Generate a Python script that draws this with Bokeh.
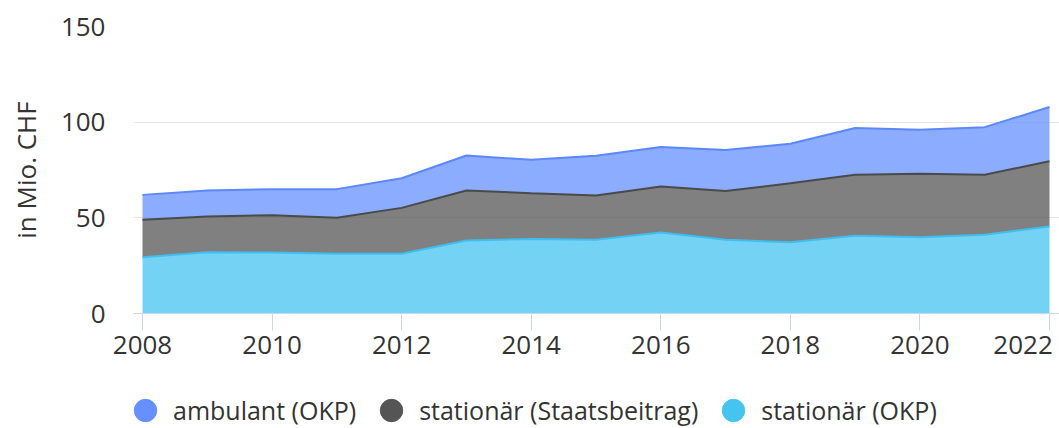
from bokeh.plotting import figure
from bokeh.layouts import column
from bokeh.models import ColumnDataSource, Range1d, FixedTicker, Legend, LegendItem
from bokeh.embed import file_html
from bokeh.resources import INLINE

years = [2008, 2009, 2010, 2011, 2012, 2013, 2014, 2015, 2016, 2017, 2018, 2019, 2020, 2021, 2022]
stationaer_okp = [29.4, 32.0, 31.9, 31.2, 31.2, 38.2, 39.0, 38.5, 42.3, 38.5, 37.3, 40.6, 39.9, 41.1, 45.5]
stationaer_staat = [19.6, 18.7, 19.5, 18.8, 24.0, 26.1, 23.9, 23.2, 24.1, 25.5, 30.8, 31.9, 33.1, 31.4, 34.1]
ambulant_okp = [13.0, 13.6, 13.6, 15.0, 15.5, 18.3, 17.4, 20.7, 20.6, 21.5, 20.6, 24.5, 23.0, 24.9, 28.3]

series_names = ["ambulant (OKP)", "stationär (Staatsbeitrag)", "stationär (OKP)"]
series_colors = ["#6690ff", "#555555", "#45c4f0"]
x_ticks = [2008, 2010, 2012, 2014, 2016, 2018, 2020, 2022]
y_ticks = [0, 50, 100, 150]
y_title = "in Mio. CHF"

FONT = "Open Sans"

src = ColumnDataSource(dict(year=years, s_okp=stationaer_okp, s_staat=stationaer_staat, amb=ambulant_okp))

# ---------------- main chart ----------------
p = figure(width=1059, height=370, output_backend="svg", toolbar_location=None,
           x_range=Range1d(2007.861, 2022.1544), y_range=Range1d(0, 150),
           min_border_left=133, min_border_right=0, min_border_top=26, min_border_bottom=57)

stackers = ["s_okp", "s_staat", "amb"]
fill_cols = [series_colors[2], series_colors[1], series_colors[0]]
line_cols = ["#3fbff0", "#4a4a4a", "#5b87ff"]
p.varea_stack(stackers, x="year", source=src, color=fill_cols, fill_alpha=0.75)
p.vline_stack(stackers, x="year", source=src, color=line_cols, line_width=2)

p.outline_line_color = None
p.xgrid.grid_line_color = None
p.ygrid.grid_line_color = "#e6e6e6"
p.ygrid.grid_line_width = 1
p.ygrid.ticker = FixedTicker(ticks=y_ticks)

xa = p.xaxis[0]
xa.ticker = FixedTicker(ticks=x_ticks)
xa.major_label_overrides = {2022: "2022\u00a0"}
xa.axis_line_color = "#ccd6eb"
xa.major_tick_line_color = "#ccd6eb"
xa.major_tick_out = 17
xa.major_tick_in = 0
xa.minor_tick_line_color = None
xa.major_label_standoff = -5
xa.major_label_text_font = FONT
xa.major_label_text_font_size = "26px"
xa.major_label_text_color = "#333333"

ya = p.yaxis[0]
ya.ticker = FixedTicker(ticks=y_ticks)
ya.axis_line_color = None
ya.major_tick_line_color = None
ya.minor_tick_line_color = None
ya.major_tick_out = 0
ya.major_tick_in = 0
ya.major_label_standoff = 28
ya.major_label_text_font = FONT
ya.major_label_text_font_size = "26px"
ya.major_label_text_color = "#333333"
ya.axis_label = y_title
ya.axis_label_text_font = FONT
ya.axis_label_text_font_size = "26px"
ya.axis_label_text_font_style = "normal"
ya.axis_label_text_color = "#333333"
ya.axis_label_standoff = 14

# ---------------- legend strip ----------------
lg = figure(width=1059, height=58, output_backend="svg", toolbar_location=None,
            x_range=Range1d(2007.861, 2022.1544), y_range=Range1d(0, 150),
            x_axis_location=None, y_axis_location=None,
            min_border_left=0, min_border_right=0, min_border_top=0, min_border_bottom=0)
lg.outline_line_color = None
lg.grid.visible = False

# zero-size markers: nothing in the strip, circles in the legend
leg_renderers = []
for c, col in zip(series_colors, ["amb", "s_staat", "s_okp"]):
    r = lg.scatter(x="year", y=col, source=src, marker="circle", fill_color=c, line_color=c, size=0)
    leg_renderers.append(r)

legend = Legend(items=[LegendItem(label=n, renderers=[r]) for n, r in zip(series_names, leg_renderers)],
                orientation="horizontal", location=(-16, -12),
                glyph_width=56, glyph_height=60, label_standoff=0, spacing=7, padding=0, margin=0,
                border_line_color=None, background_fill_alpha=0,
                label_text_font=FONT, label_text_font_size="25px", label_text_color="#333333")
lg.add_layout(legend, "center")

layout = column(p, lg, spacing=0)

open("out.html", "w").write(file_html(layout, INLINE))
